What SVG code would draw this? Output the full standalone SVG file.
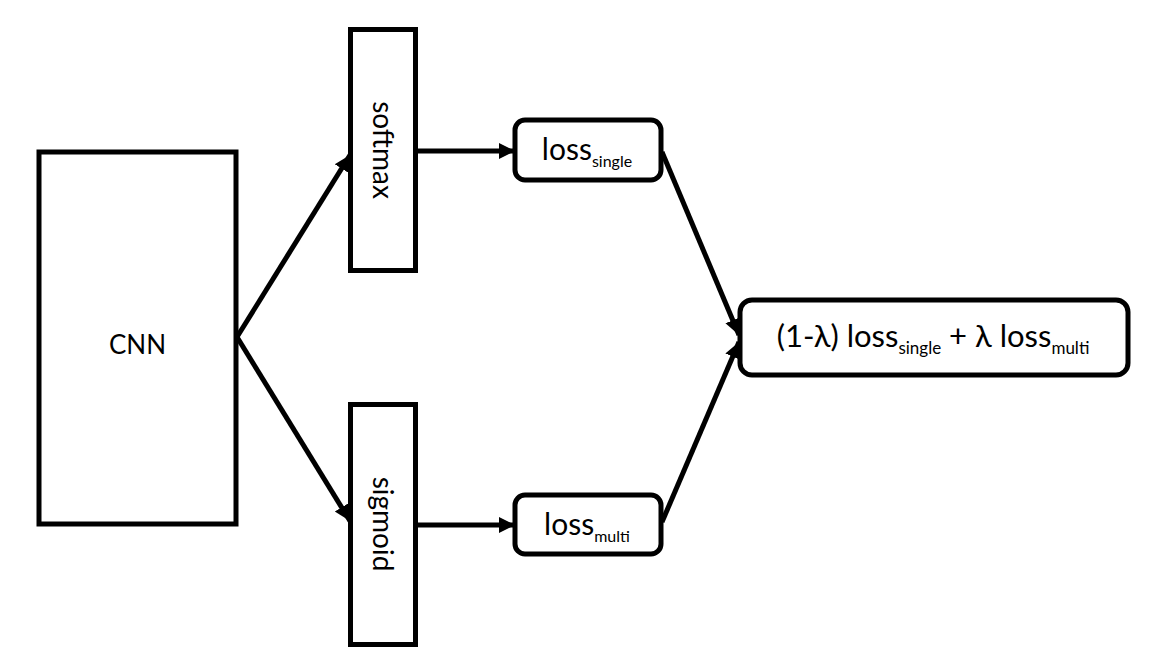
<svg xmlns="http://www.w3.org/2000/svg" width="1165" height="670" viewBox="0 0 1165 670">
<style>
.box{fill:#fff;stroke:#000;stroke-width:5}
.ln{fill:none;stroke:#000;stroke-width:5}
.t{font-family:Lato,"Liberation Sans",sans-serif;fill:#000}
</style>
<defs>
<marker id="ah" markerUnits="userSpaceOnUse" markerWidth="18" markerHeight="18" refX="16" refY="9" orient="auto">
<path d="M0,1 L16,9 L0,17 Z" fill="#000"/>
</marker>
</defs>
<rect width="1165" height="670" fill="#fff"/>
<g id="connectors">
<line class="ln" x1="237" y1="337" x2="350" y2="155" marker-end="url(#ah)"/>
<line class="ln" x1="237" y1="337" x2="350" y2="521" marker-end="url(#ah)"/>
<line class="ln" x1="417" y1="151" x2="515" y2="151" marker-end="url(#ah)"/>
<line class="ln" x1="417" y1="525" x2="515" y2="525" marker-end="url(#ah)"/>
<line class="ln" x1="662" y1="152" x2="739" y2="335" marker-end="url(#ah)"/>
<line class="ln" x1="662" y1="522" x2="739" y2="342" marker-end="url(#ah)"/>
</g>
<g id="cnn">
<rect class="box" x="39" y="152" width="197" height="372"/>
<text class="t" x="137.5" y="354" font-size="26" text-anchor="middle">CNN</text>
</g>
<g id="softmax">
<rect class="box" x="350.5" y="29.5" width="65" height="241"/>
<text class="t" font-size="28" text-anchor="middle" transform="translate(373,150) rotate(90)">softmax</text>
</g>
<g id="sigmoid">
<rect class="box" x="350.5" y="404.5" width="65" height="240"/>
<text class="t" font-size="28" text-anchor="middle" transform="translate(373,524) rotate(90)">sigmoid</text>
</g>
<g id="loss_single">
<rect class="box" x="515" y="120" width="146" height="60" rx="10"/>
<text class="t" x="587" y="160" font-size="30" text-anchor="middle">loss<tspan font-size="16" dy="7">single</tspan></text>
</g>
<g id="loss_multi">
<rect class="box" x="515" y="495" width="146" height="59" rx="10"/>
<text class="t" x="587" y="535" font-size="30" text-anchor="middle">loss<tspan font-size="16" dy="7">multi</tspan></text>
</g>
<g id="total">
<rect class="box" x="740" y="300" width="388" height="75" rx="12"/>
<text class="t" x="933" y="347" font-size="31" text-anchor="middle">(1-λ) loss<tspan font-size="17" dy="7">single</tspan><tspan dy="-7"> + λ loss</tspan><tspan font-size="17" dy="7">multi</tspan></text>
</g>
</svg>
